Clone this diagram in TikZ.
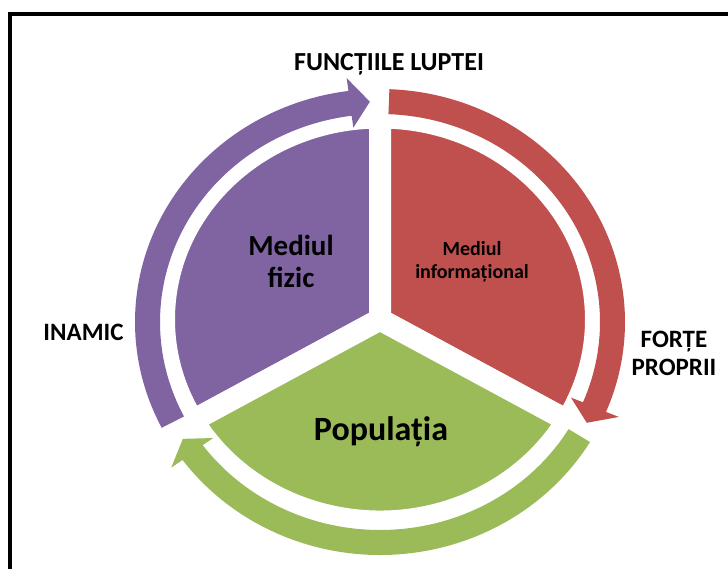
\documentclass[tikz,border=0pt]{standalone}
\usepackage{fontspec}
\setmainfont{Carlito}
\definecolor{cpurple}{HTML}{8064A2}
\definecolor{cred}{HTML}{C0504D}
\definecolor{cgreen}{HTML}{9BBB59}
% arrow along an elliptical ring: #1 colour, #2 tail angle, #3 head base angle, #4 tip angle
\newcommand\ringarrow[4]{%
  \fill[#1] (#2:245pt and 233pt)
    arc[start angle=#2, end angle=#3, x radius=245pt, y radius=233pt]
    -- (#3:259pt and 246pt) -- (#4:232.5pt and 220.5pt) -- (#3:207pt and 196pt)
    -- (#3:220pt and 208pt)
    arc[start angle=#3, end angle=#2, x radius=220pt, y radius=208pt] -- cycle;}
\begin{document}
\begin{tikzpicture}[x=1pt,y=1pt,
  wedge/.style={line width=22pt, draw=white, line join=miter},
  lbl/.style={font=\bfseries, anchor=base, inner sep=0pt, text=black}]
\useasboundingbox (0,0) rectangle (728,-568);
\fill[white] (0,0) rectangle (728,-568);
\begin{scope}
\clip (0,0) rectangle (728,-568);
\draw[line width=4.5pt] (10,-600) -- (10,-14) -- (760,-14);
\end{scope}
% segments
\begin{scope}[shift={(380,-319.5)}]
  \path[fill=cpurple, wedge] (0,0) -- (90:216pt and 202pt)
    arc[start angle=90, end angle=210, x radius=216pt, y radius=202pt] -- cycle;
  \path[fill=cred, wedge] (0,0) -- (90:216pt and 202pt)
    arc[start angle=90, end angle=-30, x radius=216pt, y radius=202pt] -- cycle;
  \path[fill=cgreen, wedge] (0,0) -- (210:216pt and 202pt)
    arc[start angle=210, end angle=330, x radius=216pt, y radius=202pt] -- cycle;
\end{scope}
% arrows
\begin{scope}[shift={(380,-322)}]
  \ringarrow{cpurple}{207}{97.4}{92.5}
  \ringarrow{cred}{87.8}{-22.7}{-27.2}
  \ringarrow{cgreen}{-31}{-143.7}{-148}
\end{scope}
% labels
\node[lbl, font=\bfseries\fontsize{26}{30}\selectfont] (functii) at (389,-70) {FUNCȚIILE LUPTEI};
\node[lbl, font=\bfseries\fontsize{25}{30}\selectfont] (inamic) at (83.5,-340) {INAMIC};
\node[lbl, font=\bfseries\fontsize{25}{30}\selectfont] (forte) at (674,-347) {FORȚE};
\node[lbl, font=\bfseries\fontsize{25}{30}\selectfont] (proprii) at (674,-375) {PROPRII};
\node[lbl, font=\bfseries\fontsize{29}{33}\selectfont] (fizic1) at (291,-255) {Mediul};
\node[lbl, font=\bfseries\fontsize{29}{33}\selectfont] (fizic2) at (291,-287) {fizic};
\node[lbl, font=\bfseries\fontsize{20}{24}\selectfont] (info1) at (472,-255) {Mediul};
\node[lbl, font=\bfseries\fontsize{20}{24}\selectfont] (info2) at (472,-278) {informațional};
\node[lbl, font=\bfseries\fontsize{34}{40}\selectfont] (populatia) at (381,-440) {Populația};
\end{tikzpicture}
\end{document}
